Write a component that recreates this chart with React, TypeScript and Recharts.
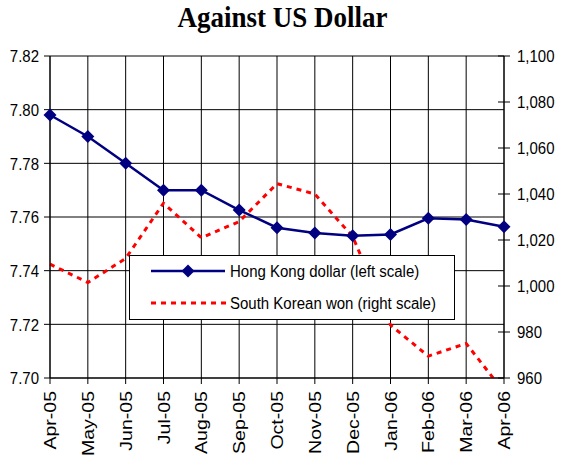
import { CartesianGrid, Legend, Line, LineChart, XAxis, YAxis } from "recharts";

const months = [
  "Apr-05", "May-05", "Jun-05", "Jul-05", "Aug-05", "Sep-05", "Oct-05",
  "Nov-05", "Dec-05", "Jan-06", "Feb-06", "Mar-06", "Apr-06",
];
const hkd = [7.798, 7.79, 7.78, 7.77, 7.77, 7.7626, 7.756, 7.754, 7.753, 7.7535, 7.7595, 7.7591, 7.7564];
const krw = [1009.5, 1001.5, 1012, 1036, 1021, 1028, 1044.5, 1040, 1021.5, 983, 969.5, 975, 954];
const leftTicks = [7.7, 7.72, 7.74, 7.76, 7.78, 7.8, 7.82];
const rightTicks = [960, 980, 1000, 1020, 1040, 1060, 1080, 1100];

const data = months.map((month, i) => ({ month, hkd: hkd[i], krw: krw[i] }));

const FONT = "'Liberation Sans', Arial, sans-serif";
const STRETCH = 1.15;
const NAVY = "#000080";
const RED = "#FF0000";

function Diamond({ cx, cy }: { cx?: number; cy?: number }) {
  if (cx == null || cy == null) return null;
  const r = 6.5;
  return <path d={`M${cx},${cy - r}L${cx + r},${cy}L${cx},${cy + r}L${cx - r},${cy}Z`} fill={NAVY} />;
}

function MonthTick({ x, y, payload }: any) {
  return (
    <g transform={`translate(${x + 6},${y})`}>
      <text transform={`rotate(-90) scale(${STRETCH},1)`} textAnchor="end" fontFamily={FONT} fontSize={17} fill="#000">
        {payload.value}
      </text>
    </g>
  );
}

function LeftTick({ x, y, payload }: any) {
  return (
    <g transform={`translate(${x},${y}) scale(1,${STRETCH})`}>
      <text textAnchor="end" dy="0.36em" fontFamily={FONT} fontSize={15} fill="#000">
        {Number(payload.value).toFixed(2)}
      </text>
    </g>
  );
}

function RightTick({ x, y, payload }: any) {
  return (
    <g>
      <line x1={x - 6} x2={x + 6} y1={y} y2={y} stroke="#000" />
      <g transform={`translate(${x + 13},${y}) scale(1,${STRETCH})`}>
        <text textAnchor="start" dy="0.36em" fontFamily={FONT} fontSize={15} fill="#000">
          {Number(payload.value).toLocaleString("en-US")}
        </text>
      </g>
    </g>
  );
}

function LegendBox() {
  const label = { position: "absolute" as const, left: 100, fontFamily: FONT, fontSize: 15, lineHeight: "17px", transform: `scaleY(${STRETCH})`, whiteSpace: "nowrap" as const };
  return (
    <div style={{ position: "relative", width: 326, height: 65, boxSizing: "border-box", border: "1px solid #000", background: "#fff" }}>
      <svg width={326} height={65} style={{ position: "absolute", left: -1, top: -1 }}>
        <line x1={22} x2={96} y1={16} y2={16} stroke={NAVY} strokeWidth={2.5} />
        <Diamond cx={59} cy={16} />
        <line x1={22} x2={97} y1={48} y2={48} stroke={RED} strokeWidth={3} strokeDasharray="5 5" />
      </svg>
      <span style={{ ...label, top: 6 }}>Hong Kong dollar (left scale)</span>
      <span style={{ ...label, top: 38 }}>South Korean won (right scale)</span>
    </div>
  );
}

export default function App() {
  return (
    <div style={{ position: "absolute", left: 0, top: 0, width: 573, height: 466, background: "#fff" }}>
      <svg width={573} height={40} style={{ position: "absolute", left: 0, top: 0 }}>
        <g transform={`translate(282.5,27) scale(1,1.12)`}>
          <text textAnchor="middle" fontFamily="'Liberation Serif', 'Times New Roman', serif" fontWeight="bold" fontSize={27} fill="#000">
            Against US Dollar
          </text>
        </g>
      </svg>
      <LineChart width={573} height={466} data={data} margin={{ top: 56, right: 0, bottom: 0, left: 0 }}>
        <CartesianGrid yAxisId="left" stroke="#000" strokeWidth={1} />
        <XAxis
          dataKey="month"
          interval={0}
          height={88}
          tickSize={6}
          tickMargin={7}
          axisLine={{ stroke: "#000" }}
          tickLine={{ stroke: "#000" }}
          tick={<MonthTick />}
        />
        <YAxis
          yAxisId="left"
          domain={[7.7, 7.82]}
          ticks={leftTicks}
          width={50}
          tickSize={6}
          tickMargin={5}
          axisLine={{ stroke: "#000" }}
          tickLine={{ stroke: "#000" }}
          tick={<LeftTick />}
        />
        <YAxis
          yAxisId="right"
          orientation="right"
          domain={[960, 1100]}
          ticks={rightTicks}
          allowDataOverflow
          width={69}
          tickSize={0}
          tickMargin={0}
          axisLine={{ stroke: "#000" }}
          tickLine={false}
          tick={<RightTick />}
        />
        <Legend
          verticalAlign="middle"
          align="center"
          layout="horizontal"
          wrapperStyle={{ left: 129, top: 255, width: 326, height: 65 }}
          content={() => <LegendBox />}
        />
        <Line
          yAxisId="right"
          dataKey="krw"
          stroke={RED}
          strokeWidth={3}
          strokeDasharray="5 5"
          dot={false}
          isAnimationActive={false}
        />
        <Line
          yAxisId="left"
          dataKey="hkd"
          stroke={NAVY}
          strokeWidth={2.5}
          dot={(p: any) => <Diamond key={p.index} cx={p.cx} cy={p.cy} />}
          activeDot={false}
          isAnimationActive={false}
        />
      </LineChart>
    </div>
  );
}
